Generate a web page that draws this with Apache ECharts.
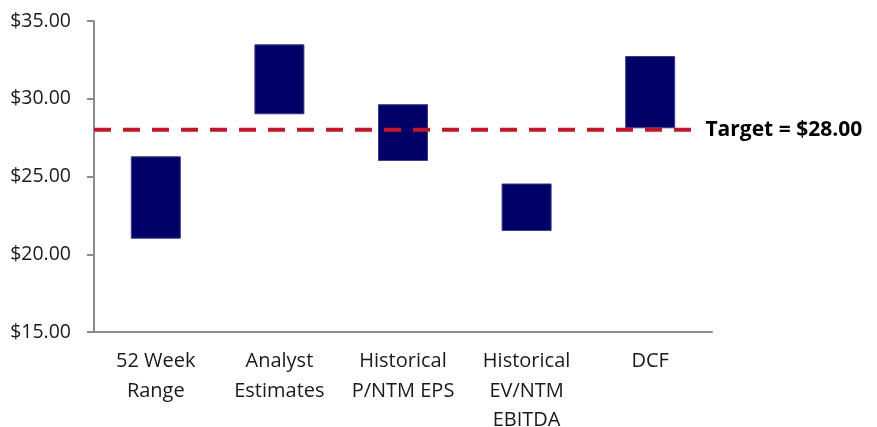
<!DOCTYPE html>
<html>
<head>
<meta charset="utf-8">
<style>
  html, body { margin: 0; padding: 0; background: #fff; }
  #chart { width: 877px; height: 427px; }
</style>
<script src="https://cdn.jsdelivr.net/npm/echarts@6/dist/echarts.min.js"></script>
</head>
<body>
<div id="chart"></div>
<script>
// Valuation ranges (football field)
const categories = ['52 Week\nRange', 'Analyst\nEstimates', 'Historical\nP/NTM EPS', 'Historical\nEV/NTM\nEBITDA', 'DCF'];
const lowValues  = [21.0, 29.0, 26.0, 21.5, 28.1];
const highValues = [26.3, 33.5, 29.65, 24.55, 32.75];
const targetPrice = 28.0;
const yTicks = [15, 20, 25, 30, 35];

const FONT = '"Open Sans", "Noto Sans", sans-serif';
const AXIS_GREY = '#8c8c8c';
const NAVY = '#000066';
const RED = '#C0182A';

// Visible part of each bar = high - low, stacked on a transparent base
const spans = highValues.map((h, i) => +(h - lowValues[i]).toFixed(2));

// Target line runs across most of the category band (value-axis units, 0..5)
const lineEnd = 4.85;

const chart = echarts.init(document.getElementById('chart'), null, { renderer: 'canvas' });

chart.setOption({
  animation: false,
  backgroundColor: '#ffffff',
  grid: {
    left: 94, right: 165, top: 21, bottom: 95,
    containLabel: false,
    outerBoundsMode: 'none'
  },
  xAxis: [
    {
      type: 'category',
      data: categories,
      axisLine: { lineStyle: { color: AXIS_GREY, width: 2 } },
      axisTick: { show: false },
      axisLabel: {
        interval: 0,
        margin: 15,
        color: '#1a1a1a',
        fontFamily: FONT,
        fontSize: 20,
        lineHeight: 29.5
      }
    },
    {
      type: 'value',
      min: 0,
      max: categories.length,
      show: false
    }
  ],
  yAxis: {
    type: 'value',
    min: yTicks[0],
    max: yTicks[yTicks.length - 1],
    interval: 5,
    splitLine: { show: false },
    axisLine: { show: true, lineStyle: { color: AXIS_GREY, width: 2 } },
    axisTick: { show: true, length: 7, lineStyle: { color: AXIS_GREY, width: 2 } },
    axisLabel: {
      margin: 23,
      color: '#1a1a1a',
      fontFamily: FONT,
      fontSize: 19.5,
      formatter: v => '$' + v.toFixed(2)
    }
  },
  series: [
    {
      name: 'base',
      type: 'bar',
      stack: 'range',
      barWidth: 50,
      silent: true,
      itemStyle: { color: 'transparent' },
      data: lowValues
    },
    {
      name: 'range',
      type: 'bar',
      stack: 'range',
      barWidth: 50,
      itemStyle: { color: NAVY, borderColor: '#3a3a8c', borderWidth: 1 },
      data: spans
    },
    {
      name: 'target',
      type: 'line',
      xAxisIndex: 1,
      yAxisIndex: 0,
      z: 10,
      symbol: 'none',
      lineStyle: { color: RED, width: 4, type: [17, 12] },
      endLabel: {
        show: true,
        distance: 12,
        formatter: () => 'Target = $' + targetPrice.toFixed(2),
        color: '#000',
        fontFamily: FONT,
        fontWeight: 'bold',
        fontSize: 21
      },
      data: [[0, targetPrice], [lineEnd, targetPrice]]
    }
  ]
});
</script>
</body>
</html>
